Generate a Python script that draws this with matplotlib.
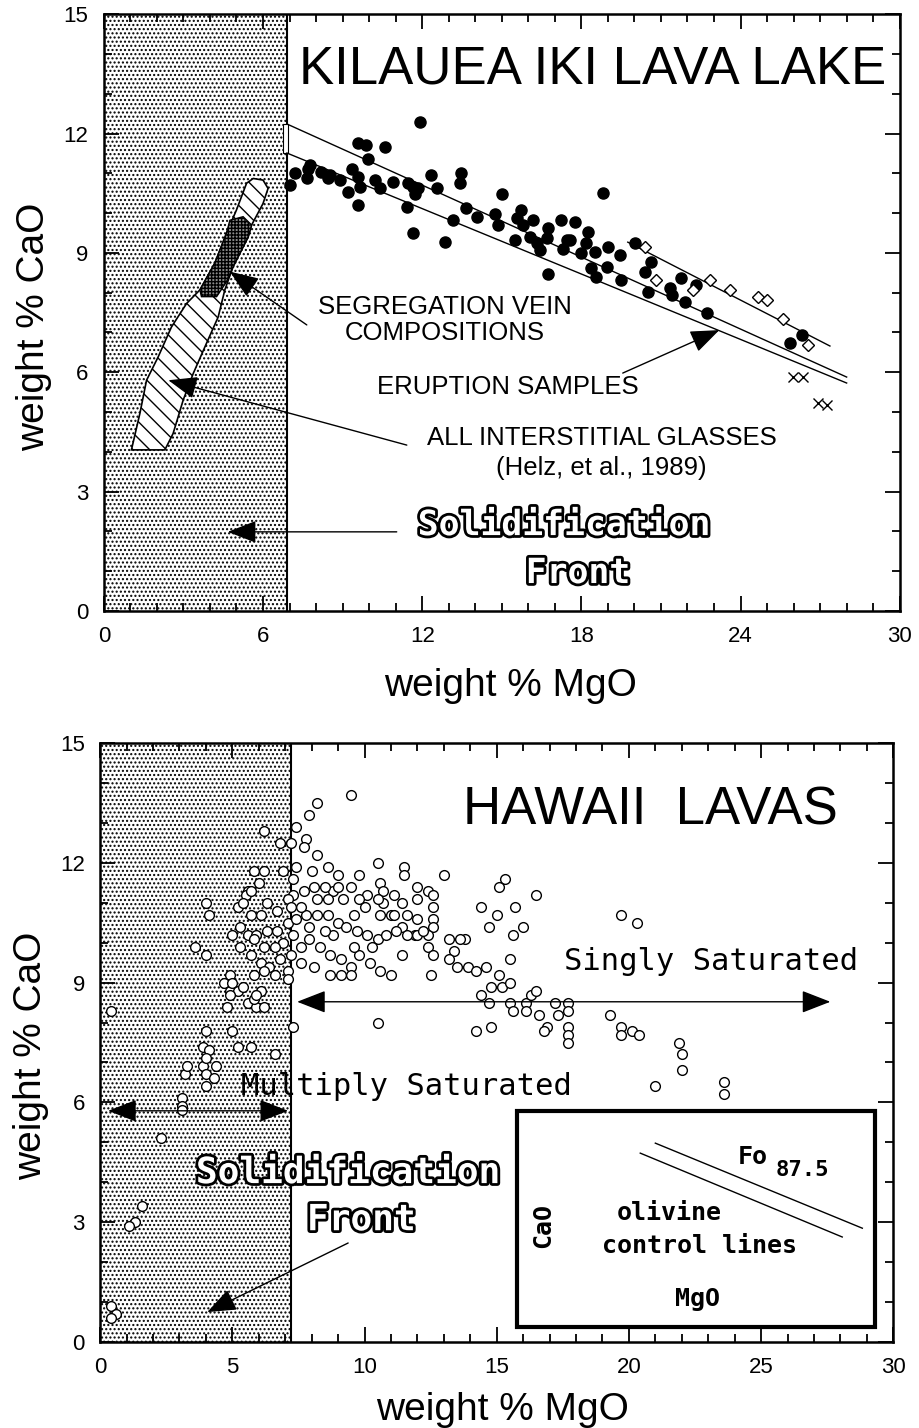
import matplotlib
matplotlib.use('Agg')
import matplotlib.pyplot as plt
import matplotlib.patheffects as pe
from matplotlib.patches import Rectangle, Polygon

plt.rcParams['hatch.linewidth'] = 1.0
plt.rcParams['font.family'] = ['Liberation Sans', 'DejaVu Sans']

# ---------------- top panel data (Kilauea Iki) ----------------
iki_mgo = [7.01, 7.20, 7.64, 7.70, 7.76, 8.20, 8.46, 8.52, 8.90, 9.21, 9.34, 9.59, 9.65, 9.59,
           9.59, 9.90, 9.96, 10.21, 10.40, 10.59, 10.91, 11.41, 11.47, 11.66, 11.72, 11.85,
           11.66, 11.91, 12.35, 12.54, 12.85, 13.17, 13.42, 13.48, 13.67, 14.05, 14.74, 14.86,
           14.99, 15.49, 15.56, 15.74, 15.81, 16.18, 16.06, 16.31, 16.43, 16.69, 16.75, 16.75,
           17.25, 17.31, 17.56, 17.75, 17.44, 18.26, 18.19, 18.00, 18.51, 19.01, 19.45, 18.38,
           18.57, 18.95, 19.51, 20.02, 20.64, 20.39, 20.52, 21.33, 21.40, 21.77, 21.90, 22.34,
           22.72, 25.86, 26.30, 18.80]
iki_cao = [10.70, 11.00, 10.87, 11.12, 11.21, 11.04, 10.87, 10.95, 10.83, 10.54, 11.12, 10.91,
           10.66, 10.20, 11.77, 11.71, 11.37, 10.83, 10.62, 11.67, 10.79, 10.16, 10.75, 10.66,
           10.49, 10.62, 9.49, 12.29, 10.95, 10.62, 9.28, 9.82, 10.75, 11.00, 10.12, 9.91, 9.99,
           9.70, 10.49, 9.32, 9.87, 10.08, 9.70, 9.82, 9.40, 9.24, 9.07, 9.37, 9.62, 8.48, 9.82,
           9.11, 9.32, 9.78, 9.32, 9.53, 9.24, 8.99, 9.03, 9.15, 8.94, 8.61, 8.40, 8.65, 8.32,
           9.24, 8.78, 8.53, 8.02, 8.11, 7.94, 8.36, 7.77, 8.19, 7.48, 6.73, 6.93, 10.50]

erupt_mgo = [20.39, 20.83, 22.21, 22.84, 23.60, 24.66, 24.98, 25.61, 26.55]
erupt_cao = [9.15, 8.32, 8.07, 8.32, 8.07, 7.90, 7.81, 7.35, 6.68]

cross_mgo = [25.97, 26.35, 26.91, 27.25]
cross_cao = [5.88, 5.88, 5.23, 5.18]

# interstitial glass field and segregation veins (outlines)
glass_mgo = [1.04, 1.36, 1.61, 2.05, 2.55, 3.12, 3.62, 4.18, 4.62, 5.00, 5.38, 5.63, 6.00, 6.19,
             6.00, 5.57, 5.44, 4.87, 4.56, 4.31, 3.87, 3.37, 2.99, 2.61, 2.30]
glass_cao = [4.05, 4.97, 5.80, 6.39, 7.14, 7.73, 8.07, 8.74, 9.49, 10.08, 10.75, 10.87, 10.83,
             10.62, 10.24, 9.70, 9.40, 8.65, 8.07, 7.39, 6.73, 5.97, 5.30, 4.46, 4.05]
vein_mgo = [4.75, 5.25, 5.57, 5.44, 4.87, 4.62, 4.25, 3.68, 3.62, 4.18, 4.62]
vein_cao = [9.82, 9.91, 9.70, 9.40, 8.65, 8.27, 7.90, 7.90, 8.07, 8.74, 9.49]

# olivine control lines (x0, x1), (y0, y1)
ctrl_a = ([6.9, 28.0], [12.24, 5.88])
ctrl_b = ([6.9, 28.0], [11.51, 5.73])
ctrl_c = ([19.75, 27.37], [9.27, 6.66])

front_top = 6.9
front_bot = 7.2

# ---------------- bottom panel data (Hawaii lavas) ----------------
haw_mgo = [8.2, 7.9, 7.4, 9.5, 6.2, 6.8, 7.2, 7.8, 7.7, 8.2, 8.0, 8.6, 9.0, 10.5, 11.5, 13.0, 9.8,
           5.8, 6.2, 6.9, 7.4, 5.6, 6.0, 5.5, 10.6, 10.7, 11.5, 12.0, 12.4, 12.6, 12.6, 12.6, 12.6,
           12.4, 12.4, 12.6, 12.5, 11.9, 11.4, 11.0, 10.7, 10.5, 10.1, 10.0, 9.6, 9.2, 8.8, 8.5,
           8.1, 7.7, 7.3, 7.1, 6.7, 6.3, 6.1, 5.7, 5.3, 5.6, 5.9, 6.3, 6.7, 7.1, 7.4, 7.8, 8.2,
           8.6, 9.0, 9.3, 9.7, 10.1, 10.5, 10.8, 11.2, 11.6, 12.0, 13.2, 13.4, 13.2, 13.5, 5.3,
           5.7, 6.1, 6.4, 6.8, 7.2, 7.6, 7.9, 8.3, 8.7, 9.1, 9.5, 9.8, 10.2, 10.6, 11.0, 11.4,
           8.7, 9.1, 9.5, 7.1, 7.6, 8.1, 5.8, 6.2, 6.6, 4.9, 7.1, 5.0, 5.2, 12.0, 11.4, 11.1, 9.0,
           9.5, 9.8, 8.6, 8.2, 7.6, 7.2, 10.6, 11.1, 11.6, 12.0, 12.2, 9.6, 10.3, 8.8, 8.5, 7.9,
           7.3, 6.9, 6.6, 6.2, 5.8, 4.0, 4.1, 5.4, 3.6, 4.0, 0.4, 4.0, 5.0, 3.9, 4.1, 5.2, 5.7,
           6.6, 7.3, 10.5, 4.7, 4.9, 5.0, 5.2, 4.9, 4.8, 5.6, 5.9, 6.2, 5.8, 6.1, 5.4, 5.9, 3.2,
           3.3, 3.9, 4.0, 4.4, 4.0, 4.3, 4.0, 3.1, 3.1, 3.1, 2.3, 1.6, 1.3, 1.1, 0.4, 0.6, 0.4,
           15.3, 15.1, 16.5, 14.4, 15.7, 15.0, 14.7, 15.6, 16.0, 19.7, 20.3, 15.5, 13.8, 13.6,
           13.9, 14.2, 14.6, 15.1, 15.2, 15.5, 14.8, 14.4, 14.7, 15.5, 15.6, 16.1, 16.1, 16.3,
           16.5, 16.6, 16.9, 16.8, 17.2, 17.7, 17.3, 17.7, 17.7, 17.7, 17.7, 14.2, 14.8, 19.3,
           19.7, 19.7, 20.1, 20.4, 21.9, 22.0, 22.0, 21.0, 23.6, 23.6, 7.3, 5.7]
haw_cao = [13.5, 13.2, 12.9, 13.7, 12.8, 12.5, 12.5, 12.6, 12.4, 12.2, 11.8, 11.9, 11.7, 12.0,
           11.9, 11.7, 11.7, 11.8, 11.8, 11.8, 11.9, 11.3, 11.5, 11.2, 11.5, 11.3, 11.7, 11.4,
           11.3, 11.2, 10.9, 10.6, 10.4, 10.2, 9.9, 9.7, 9.2, 10.2, 10.4, 10.7, 11.0, 11.1, 11.2,
           10.9, 10.7, 11.1, 11.3, 11.4, 11.4, 11.3, 11.2, 11.1, 10.8, 11.0, 10.7, 10.7, 10.4,
           10.2, 10.2, 10.3, 10.3, 10.5, 10.6, 10.7, 10.7, 10.7, 10.5, 10.4, 10.3, 10.2, 10.1,
           10.2, 10.3, 10.2, 10.2, 10.1, 9.8, 9.6, 9.4, 9.9, 9.7, 9.5, 9.4, 9.6, 9.7, 9.9, 10.1,
           9.9, 9.7, 9.6, 9.4, 9.7, 9.5, 9.3, 9.2, 9.7, 9.2, 9.2, 9.2, 9.3, 9.5, 9.4, 9.2, 9.3,
           9.2, 9.2, 9.1, 10.2, 10.9, 11.1, 11.0, 11.2, 11.4, 11.4, 11.1, 11.1, 11.1, 10.9, 10.9,
           10.7, 10.7, 10.7, 10.6, 10.3, 9.9, 9.9, 10.2, 10.3, 10.4, 10.2, 10.0, 9.9, 9.9, 10.1,
           11.0, 10.7, 11.0, 9.9, 9.7, 8.3, 7.8, 7.8, 7.4, 7.3, 7.4, 7.4, 7.2, 7.9, 8.0, 9.0,
           8.8, 9.0, 8.8, 8.7, 8.4, 8.5, 8.4, 8.4, 8.6, 8.8, 8.9, 8.7, 6.7, 6.9, 6.9, 7.1, 6.9,
           6.7, 6.6, 6.4, 6.1, 5.9, 5.8, 5.1, 3.4, 3.0, 2.9, 0.9, 0.7, 0.6, 11.6, 11.4, 11.2,
           10.9, 10.9, 10.7, 10.4, 10.2, 10.4, 10.7, 10.5, 9.6, 10.1, 10.1, 9.4, 9.3, 9.4, 9.2,
           8.9, 9.0, 8.9, 8.7, 8.5, 8.5, 8.3, 8.5, 8.3, 8.7, 8.8, 8.2, 7.9, 7.8, 8.5, 8.5, 8.2,
           8.3, 7.9, 7.7, 7.5, 7.8, 7.9, 8.2, 7.9, 7.7, 7.8, 7.7, 7.5, 7.2, 6.8, 6.4, 6.5, 6.2,
           11.6, 11.3]

# inset olivine lines
inset_a = ([21.0, 28.83], [4.98, 2.85])
inset_b = ([20.43, 28.07], [4.73, 2.63])

tick_font = 16
label_font = 28
note_font = 18.5
arrow_style = '-|>,head_length=0.9,head_width=0.35'
outline = [pe.withStroke(linewidth=4, foreground='black')]


def style_axes(ax, xstep):
    ax.set_xlim(0, 30)
    ax.set_ylim(0, 15)
    ax.set_xticks(range(0, 31, xstep))
    ax.set_xticks(range(0, 31), minor=True)
    ax.set_yticks(range(0, 16, 3))
    ax.set_yticks(range(0, 16), minor=True)
    ax.tick_params(which='both', direction='in', top=True, right=True, width=1.3,
                   labelsize=tick_font, pad=11)
    ax.tick_params(which='major', length=11)
    ax.tick_params(which='minor', length=6)
    for s in ax.spines.values():
        s.set_linewidth(1.8)
    ax.set_xlabel('weight % MgO', fontsize=label_font)
    ax.set_ylabel('weight % CaO', fontsize=label_font)
    ax.yaxis.set_label_coords(-0.065, 0.477)


def arrow(ax, tip, tail, style=arrow_style):
    ax.annotate('', xy=tip, xytext=tail, zorder=6,
                arrowprops=dict(arrowstyle=style, color='k', lw=1.0,
                                mutation_scale=20, shrinkA=0, shrinkB=0))


fig = plt.figure(figsize=(9.19, 14.28), dpi=100)

# ================= top panel =================
ax1 = fig.add_axes([0.113, 0.5721, 0.866, 0.418])
style_axes(ax1, 6)
ax1.xaxis.set_label_coords(0.511, -0.095)

ax1.add_patch(Rectangle((0, 0), front_top, 15, facecolor='white', edgecolor='black',
                        hatch='....', lw=0, zorder=1))
ax1.axvline(front_top, color='k', lw=1.5, zorder=2)

ax1.add_patch(Polygon(list(zip(glass_mgo, glass_cao)), closed=True, facecolor='white',
                      edgecolor='black', hatch='\\\\', lw=1.2, zorder=3))
ax1.add_patch(Polygon(list(zip(vein_mgo, vein_cao)), closed=True, facecolor='#8a8a8a',
                      edgecolor='black', hatch='+++++', lw=1.0, zorder=3.5))

ax1.add_patch(Rectangle((6.75, 11.51), 0.2, 0.73, facecolor='white', edgecolor='black',
                        lw=0.8, zorder=3))
for xs, ys in (ctrl_a, ctrl_b, ctrl_c):
    ax1.plot(xs, ys, color='k', lw=1.0, zorder=4)

ax1.plot(iki_mgo, iki_cao, 'o', color='k', ms=8, zorder=5)
ax1.plot(erupt_mgo, erupt_cao, 'D', mfc='white', mec='k', mew=1.0, ms=6.5, ls='none', zorder=5)
ax1.plot(cross_mgo, cross_cao, 'x', color='k', mew=1.0, ms=7, ls='none', zorder=5)

ax1.text(18.43, 13.62, 'KILAUEA IKI LAVA LAKE', fontsize=38, ha='center', va='center', zorder=7)

ax1.text(12.85, 7.64, 'SEGREGATION VEIN', fontsize=note_font, ha='center', va='center')
ax1.text(12.85, 6.98, 'COMPOSITIONS', fontsize=note_font, ha='center', va='center')
arrow(ax1, (4.75, 8.53), (7.65, 7.19))

ax1.text(15.23, 5.63, 'ERUPTION SAMPLES', fontsize=note_font, ha='center', va='center')
arrow(ax1, (23.2, 7.06), (19.56, 5.98))

ax1.text(18.77, 4.35, 'ALL INTERSTITIAL GLASSES', fontsize=note_font, ha='center', va='center')
ax1.text(18.77, 3.59, '(Helz, et al., 1989)', fontsize=note_font, ha='center', va='center')
arrow(ax1, (2.43, 5.80), (11.42, 4.17))

ax1.text(17.34, 2.16, 'Solidification', fontsize=25, family='DejaVu Sans Mono',
         weight='bold', color='white', ha='center', va='center', path_effects=outline)
ax1.text(17.87, 0.955, 'Front', fontsize=25, family='DejaVu Sans Mono',
         weight='bold', color='white', ha='center', va='center', path_effects=outline)
arrow(ax1, (4.67, 1.99), (11.04, 1.99))

# ================= bottom panel =================
ax2 = fig.add_axes([0.109, 0.0602, 0.863, 0.4195])
style_axes(ax2, 5)
ax2.xaxis.set_label_coords(0.507, -0.083)

ax2.add_patch(Rectangle((0, 0), front_bot, 15, facecolor='white', edgecolor='black',
                        hatch='....', lw=0, zorder=1))
ax2.axvline(front_bot, color='k', lw=1.5, zorder=2)

ax2.plot(haw_mgo, haw_cao, 'o', mfc='white', mec='k', mew=1.0, ms=7, ls='none', zorder=3)

ax2.text(20.81, 13.30, 'HAWAII  LAVAS', fontsize=38, ha='center', va='center')

ax2.text(23.12, 9.52, 'Singly Saturated', fontsize=22, family='DejaVu Sans Mono',
         ha='center', va='center')
arrow(ax2, (27.62, 8.52), (7.45, 8.52), '<|-|>,head_length=0.9,head_width=0.35')

ax2.text(11.58, 6.41, 'Multiply Saturated', fontsize=22, family='DejaVu Sans Mono',
         ha='center', va='center', zorder=6)
arrow(ax2, (7.11, 5.79), (0.3, 5.79), '<|-|>,head_length=0.9,head_width=0.35')

ax2.text(9.38, 4.23, 'Solidification', fontsize=26, family='DejaVu Sans Mono',
         weight='bold', color='white', ha='center', va='center', path_effects=outline, zorder=7)
ax2.text(9.88, 3.05, 'Front', fontsize=26, family='DejaVu Sans Mono',
         weight='bold', color='white', ha='center', va='center', path_effects=outline, zorder=7)
arrow(ax2, (4.05, 0.75), (9.38, 2.48))

# inset sketch of olivine control lines
ax2.add_patch(Rectangle((15.78, 0.375), 13.54, 5.405, facecolor='white', edgecolor='black',
                        lw=3, zorder=8))
for xs, ys in (inset_a, inset_b):
    ax2.plot(xs, ys, color='k', lw=1.0, zorder=9)
mono_b = dict(family='DejaVu Sans Mono', weight='bold', zorder=9)
ax2.text(24.67, 4.63, 'Fo', fontsize=18, ha='center', va='center', **mono_b)
ax2.text(26.56, 4.31, '87.5', fontsize=16, ha='center', va='center', **mono_b)
ax2.text(21.53, 3.23, 'olivine', fontsize=18, ha='center', va='center', **mono_b)
ax2.text(22.66, 2.40, 'control lines', fontsize=18, ha='center', va='center', **mono_b)
ax2.text(22.58, 1.08, 'MgO', fontsize=18, ha='center', va='center', **mono_b)
ax2.text(16.76, 2.93, 'CaO', fontsize=18, ha='center', va='center', rotation=90, **mono_b)

fig.savefig('out.png', dpi=100)
